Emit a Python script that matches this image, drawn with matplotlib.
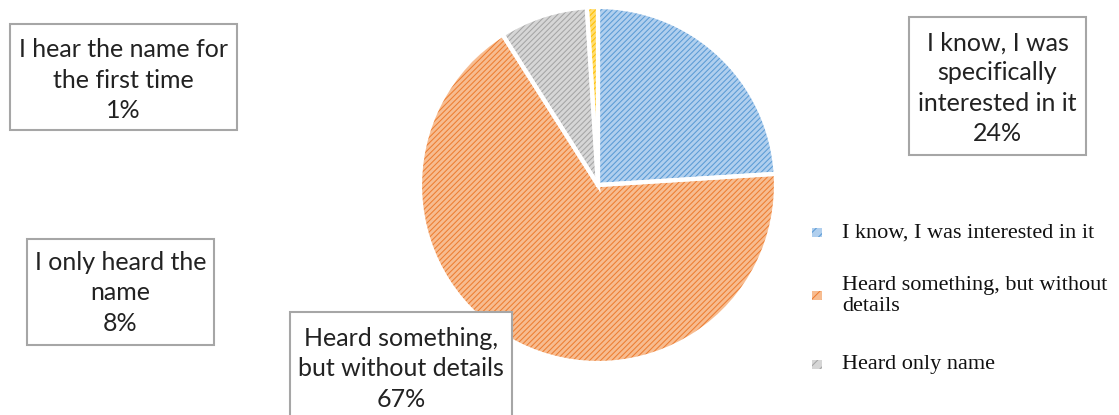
import matplotlib
matplotlib.use("Agg")
import matplotlib.pyplot as plt
from matplotlib.patches import Rectangle

# Survey answers: awareness of the name
categories = [
    "I know, I was interested in it",
    "Heard something, but without\ndetails",
    "Heard only name",
    "I hear the name for the first time",
]
shares = [24, 67, 8, 1]
box_labels = [
    "I know, I was\nspecifically\ninterested in it",
    "Heard something,\nbut without details",
    "I only heard the\nname",
    "I hear the name for\nthe first time",
]
stripe_colors = ["#5B9BD5", "#ED7D31", "#A5A5A5", "#FFC000"]
fill_colors = ["#B0CFEE", "#F7BC90", "#D6D6D6", "#FFDD70"]

W, H = 1119, 415
plt.rcParams["hatch.linewidth"] = 0.75
fig = plt.figure(figsize=(W / 100, H / 100), dpi=100)
ax = fig.add_axes([0, 0, 1, 1])

center = (598, H - 185)
radius = 178
hatch = "/" * 6

wedges, _ = ax.pie(shares, startangle=90, counterclock=False, center=center,
                   radius=radius, colors=fill_colors, frame=True,
                   wedgeprops=dict(linewidth=0))
for w, c in zip(wedges, stripe_colors):
    w.set_hatch(hatch)
    w.set_edgecolor(c)
    w.set_linewidth(0)
# white separators between slices
ax.pie(shares, startangle=90, counterclock=False, center=center, radius=radius,
       frame=True, wedgeprops=dict(fill=False, edgecolor="white", linewidth=3))
ax.set_xlim(0, W)
ax.set_ylim(0, H)
ax.axis("off")

# Callout boxes: (x0, y0 top, x1, y1 bottom, text centre y) in pixels
boxes = [
    (909, 17, 1086, 155, 88),
    (290, 312, 512, 430, 369),
    (27, 239, 214, 345, 293),
    (10, 24, 237, 130, 80),
]
for (x0, y0, x1, y1, ty), lab, val in zip(boxes, box_labels, shares):
    ax.add_patch(Rectangle((x0, H - y1), x1 - x0, y1 - y0, facecolor="white",
                           edgecolor="#A6A6A6", linewidth=1.5, zorder=3,
                           clip_on=False))
    ax.text((x0 + x1) / 2, H - ty, f"{lab}\n{val}%", ha="center",
            va="center", fontsize=18, family="Lato", color="#222222",
            linespacing=1.38, zorder=4)

# Legend (first three entries)
legend_y = [233, 296, 364]
for y, lab, f, s in zip(legend_y, categories[:3], fill_colors, stripe_colors):
    ax.add_patch(Rectangle((812, H - y - 4.5), 10, 9, facecolor=f,
                           edgecolor=s, hatch="/" * 3, linewidth=0))
    ax.text(842, H - y, lab, ha="left", va="center", fontsize=16,
            family="Liberation Serif", color="#111111", linespacing=1.1)

fig.savefig("out.png", dpi=100)
